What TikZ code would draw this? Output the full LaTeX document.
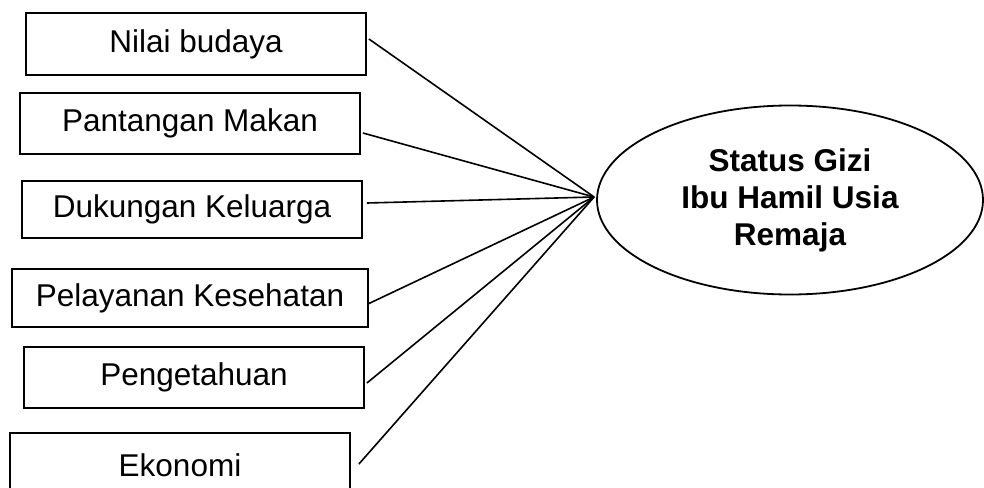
\documentclass[tikz,border=0pt]{standalone}
\usepackage{fontspec}
\setmainfont{Liberation Sans}
\usetikzlibrary{shapes.geometric}
\tikzset{
  factor/.style={
    draw, line width=1.8pt, inner sep=0pt, minimum width=340pt, minimum height=61pt,
    font=\fontsize{31.5}{37}\selectfont, align=center
  },
  outcome/.style={
    draw, ellipse, line width=1.8pt, inner sep=0pt, minimum width=386pt, minimum height=189pt,
    font=\fontsize{31.5}{37}\selectfont\bfseries, align=center
  },
  link/.style={line width=1.6pt, black}
}
\begin{document}
\begin{tikzpicture}[x=1pt, y=-1pt]
  \clip (0,0) rectangle (984,487);
  \useasboundingbox (0,0) rectangle (984,487);
  \node[factor, minimum height=62pt] (budaya) at (196,44) {Nilai budaya};
  \node[factor] (pantang) at (190,123.5) {Pantangan Makan};
  \node[factor, minimum height=57pt] (keluarga) at (192,209.5) {Dukungan Keluarga};
  \node[factor, minimum width=356pt, minimum height=58pt] (layanan) at (190,298) {Pelayanan Kesehatan};
  \node[factor] (tahu) at (194,377.5) {Pengetahuan};
  \node[factor, minimum height=64pt] (ekonomi) at (180,465) {Ekonomi};
  \node[outcome] (gizi) at (790,200) {Status Gizi\\Ibu Hamil Usia\\Remaja};
  \coordinate (hub) at ([xshift=-2pt, yshift=3pt]gizi.west);
  \foreach \b/\dx/\dy in {budaya/2/5, pantang/2/-9.5, keluarga/4/6.5, layanan/-1/-6, tahu/2/-5.5, ekonomi/8/1}
    {\draw[link] ([xshift=\dx pt, yshift=\dy pt]\b.east) -- (hub);}
\end{tikzpicture}
\end{document}
